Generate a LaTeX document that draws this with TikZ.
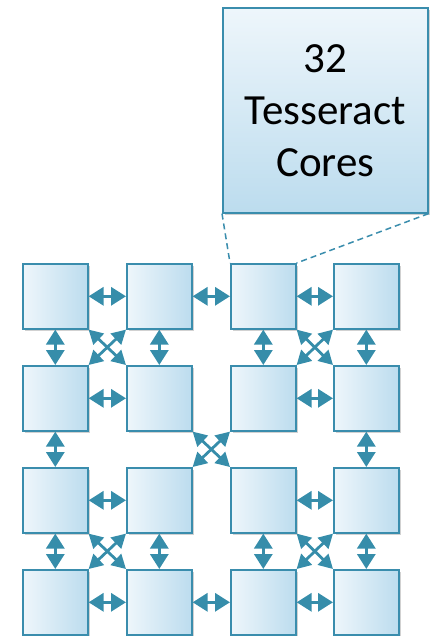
\documentclass[tikz,border=0pt]{standalone}
\usepackage{fontspec}
\setmainfont{Carlito}
\usetikzlibrary{arrows.meta,shadows}
\definecolor{edge}{HTML}{3A8DAD}
\definecolor{arr}{HTML}{368DAA}
\definecolor{fillL}{HTML}{EEF6FB}
\definecolor{fillR}{HTML}{BCDCEE}
\begin{document}
\begin{tikzpicture}[x=1pt,y=-1pt,
  core/.style={draw=edge, line width=1.6pt, left color=fillL, right color=fillR,
    minimum size=65pt, inner sep=0pt, anchor=north west,
    drop shadow={shadow xshift=2pt,shadow yshift=-2.5pt,opacity=0.3,fill=black!60}},
  bigbox/.style={draw=edge, line width=1.6pt, top color=fillL, bottom color=fillR,
    minimum size=205pt, inner sep=0pt, anchor=north west, align=center,
    font=\fontsize{43}{52}\selectfont,
    drop shadow={shadow xshift=2pt,shadow yshift=-2.5pt,opacity=0.3,fill=black!60}},
  link/.style={arr, line width=3.2pt, {Triangle[width=18pt,length=15pt]}-{Triangle[width=18pt,length=15pt]}},
  dlink/.style={arr, line width=2.8pt, {Triangle[width=15pt,length=14pt]}-{Triangle[width=15pt,length=14pt]}},
  dashlink/.style={edge, line width=1.5pt, dash pattern=on 6pt off 4pt}
]
\useasboundingbox (0,0) rectangle (435,636);

\foreach \r/\y in {1/263,2/365,3/467,4/569}{
  \foreach \c/\x in {1/22,2/126,3/230,4/333}{
    \node[core] (c\r\c) at (\x,\y) {};
  }
}

\node[bigbox] (big) at (222,7) {32\\Tesseract\\Cores};

\draw[dashlink] (big.south west) -- (c13.north west);
\draw[dashlink] (big.south east) -- (c13.north east);

% horizontal links
\foreach \a/\b in {11/12,12/13,13/14,21/22,23/24,31/32,33/34,41/42,42/43,43/44}{
  \draw[link] (c\a.east) -- (c\b.west);
}
% vertical links
\foreach \a/\b in {11/21,21/31,31/41,12/22,32/42,13/23,33/43,14/24,24/34,34/44}{
  \draw[link] (c\a.south) -- (c\b.north);
}
% diagonal crosses
\foreach \tl/\tr/\bl/\br in {11/12/21/22,13/14/23/24,22/23/32/33,31/32/41/42,33/34/43/44}{
  \draw[dlink] (c\tl.south east) -- (c\br.north west);
  \draw[dlink] (c\tr.south west) -- (c\bl.north east);
}
\end{tikzpicture}
\end{document}
